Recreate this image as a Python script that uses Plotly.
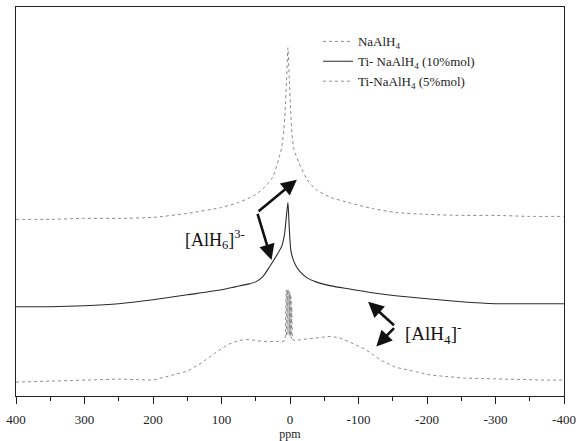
import plotly.graph_objects as go

# ---- data (ppm vs. stacked intensity, arbitrary units) ----
ppm_na = [400, 350, 300, 250, 200, 150, 100, 75, 50, 35, 25, 16, 12, 9, 7, 5, 3, 1, -1, -3, -6, -13, -25, -38, -60, -85, -120, -154, -200, -250, -300, -350, -400]
int_na = [178, 178, 179, 179, 180, 184, 190, 195, 203, 212, 221, 240, 251, 268, 288, 318, 351, 318, 288, 263, 248, 235, 218, 208, 200, 195, 189, 185, 183, 182, 182, 181, 181]

ppm_ti10 = [400, 350, 300, 250, 200, 150, 100, 80, 60, 50, 40, 30, 20, 12, 8, 5, 3, 1, -1, -3, -8, -15, -25, -38, -60, -85, -120, -154, -200, -250, -300, -350, -400]
int_ti10 = [90, 90, 91, 93, 97, 102, 107, 110, 113, 115, 120, 130, 141, 151, 163, 183, 195, 168, 148, 141, 132, 125, 119, 115, 111, 108, 104, 101, 98, 95, 93, 93, 93]

ppm_ti5 = [400, 350, 300, 250, 200, 150, 130, 110, 90, 75, 60, 40, 20, 10, 7.0, 6.5, 6.0, 5.5, 5.0, 4.5, 4.0, 3.5, 3.0, 2.5, 2.0, 1.5, 1.0, 0.5, 0.0, -0.5, -1.0, -1.5, -2.0, -2.5, -3.5, -6, -20, -40, -57, -71, -85, -110, -133, -154, -180, -206, -255, -300, -375, -400]
int_ti5 = [14, 15, 16, 17, 16, 25, 33, 43, 52, 56, 57, 55, 55, 55, 56, 104, 58, 107, 60, 107, 62, 107, 62, 107, 62, 106, 62, 105, 60, 103, 60, 100, 58, 90, 57, 56, 57, 59, 60, 59, 55, 47, 36, 29, 25, 21, 18, 17, 16, 16]

x_ticks = [400, 300, 200, 100, 0, -100, -200, -300, -400]
x_ticklabels = ["400", "300", "200", "100", "0", "-100", "-200", "-300", "-400"]

SERIF = "Liberation Serif, Times New Roman, serif"

fig = go.Figure()
fig.add_trace(go.Scatter(x=ppm_na, y=int_na, mode="lines", name="NaAlH<sub>4</sub>",
                         line=dict(color="#8a8a8a", width=1, dash="dot", shape="spline", smoothing=0.6)))
fig.add_trace(go.Scatter(x=ppm_ti10, y=int_ti10, mode="lines", name="Ti- NaAlH<sub>4</sub> (10%mol)",
                         line=dict(color="#2a2a2a", width=1.1, shape="spline", smoothing=0.6)))
fig.add_trace(go.Scatter(x=ppm_ti5, y=int_ti5, mode="lines", name="Ti-NaAlH<sub>4</sub> (5%mol)",
                         line=dict(color="#8e8e8e", width=1, dash="dot")))

arrow = dict(showarrow=True, arrowhead=2, arrowsize=1.2, arrowwidth=2.6, arrowcolor="#111",
             axref="x", ayref="y", xref="x", yref="y", text="")
# [AlH6]3- bent arrow (vertex -> two heads)
fig.add_annotation(x=-10, y=218, ax=48, ay=185, **arrow)
fig.add_annotation(x=27, y=137, ax=48, ay=185, **arrow)
# [AlH4]- bent arrow
fig.add_annotation(x=-114, y=95, ax=-154, ay=70, **arrow)
fig.add_annotation(x=-126, y=50, ax=-154, ay=70, **arrow)

fig.add_annotation(x=110, y=158, xref="x", yref="y", showarrow=False,
                   text="[AlH<sub>6</sub>]<sup>3-</sup>", font=dict(family=SERIF, size=18, color="#111"))
fig.add_annotation(x=-165, y=63, xref="x", yref="y", showarrow=False, xanchor="left",
                   text="[AlH<sub>4</sub>]<sup>-</sup>", font=dict(family=SERIF, size=19, color="#111"))

fig.update_layout(
    width=582, height=441,
    margin=dict(l=15, r=15, t=6, b=43),
    paper_bgcolor="white", plot_bgcolor="white",
    font=dict(family=SERIF, size=12, color="#222"),
    legend=dict(x=0.551, y=0.95, xanchor="left", yanchor="top", bgcolor="rgba(0,0,0,0)",
                font=dict(family=SERIF, size=13, color="#222"), tracegroupgap=0),
    xaxis=dict(range=[400, -400], tickmode="array", tickvals=x_ticks, ticktext=x_ticklabels,
               ticks="outside", ticklen=7, tickwidth=1, tickcolor="#222", ticklabelstandoff=4,
               minor=dict(dtick=50, ticks="outside", ticklen=4, tickcolor="#222"),
               showline=True, linecolor="#222", linewidth=1, mirror=True, showgrid=False, zeroline=False,
               title=dict(text="ppm", font=dict(family=SERIF, size=12), standoff=0),
               tickfont=dict(family=SERIF, size=13, color="#222")),
    yaxis=dict(range=[0, 392], showticklabels=False, ticks="", showline=True, linecolor="#222",
               linewidth=1, mirror=True, showgrid=False, zeroline=False),
)

fig.write_html("out.html")
